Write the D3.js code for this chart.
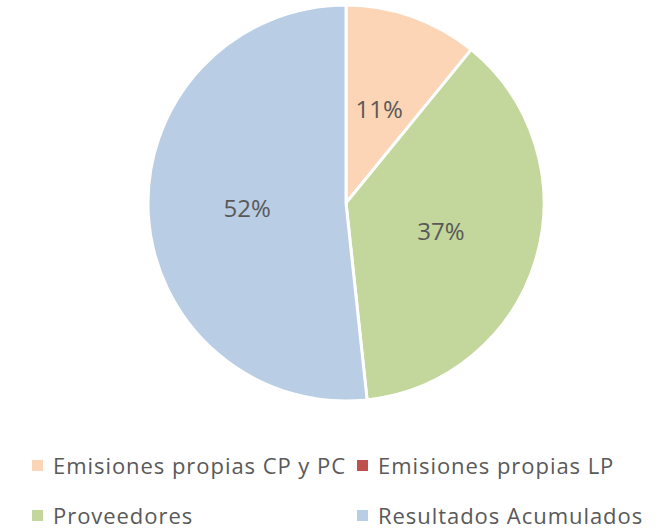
<!DOCTYPE html>
<html><head><meta charset="utf-8">
<script src="https://cdn.jsdelivr.net/npm/d3@7"></script>
<style>body{margin:0;background:#fff}svg{display:block}text{font-family:"Open Sans","Noto Sans",sans-serif;fill:#595959}</style>
</head><body>
<svg id="c" width="667" height="530"></svg>
<script>
const categories = ["Emisiones propias CP y PC", "Emisiones propias LP", "Proveedores", "Resultados Acumulados"];
const values = [10.9, 0, 37.4, 51.7];
const colors = ["#FBD5B5", "#C0504D", "#C3D69B", "#B9CDE5"];

const svg = d3.select("#c");
const cx = 346, cy = 203, r = 198;
const data = categories.map((c, i) => ({name: c, value: values[i], color: colors[i]}));
const total = d3.sum(values);
const pie = d3.pie().value(d => d.value).sort(null);
const arcs = pie(data);
const arc = d3.arc().innerRadius(0).outerRadius(r);
const g = svg.append("g").attr("transform", `translate(${cx},${cy})`);
g.selectAll("path").data(arcs.filter(a => a.data.value > 0)).join("path")
  .attr("d", arc).attr("fill", d => d.data.color)
  .attr("stroke", "#fff").attr("stroke-width", 3).attr("stroke-linejoin", "round");
const labelArc = d3.arc().innerRadius(r * 0.5).outerRadius(r * 0.5);
g.selectAll("text").data(arcs.filter(a => a.data.value > 0)).join("text")
  .attr("transform", d => `translate(${labelArc.centroid(d)})`)
  .attr("text-anchor", "middle").attr("dy", "0.36em")
  .style("font-size", "24px")
  .text(d => Math.round(d.data.value / total * 100) + "%");

const legX = [32, 357], legY = [466, 516];
const lg = svg.append("g");
data.forEach((d, i) => {
  const x = legX[i % 2], y = legY[Math.floor(i / 2)];
  lg.append("rect").attr("x", x).attr("y", y - 6).attr("width", 11).attr("height", 11).attr("fill", d.color);
  lg.append("text").attr("x", x + 21).attr("y", y).attr("dy", "0.36em")
    .style("font-size", "22px").style("letter-spacing", "0.95px").text(d.name);
});
</script>
</body></html>
